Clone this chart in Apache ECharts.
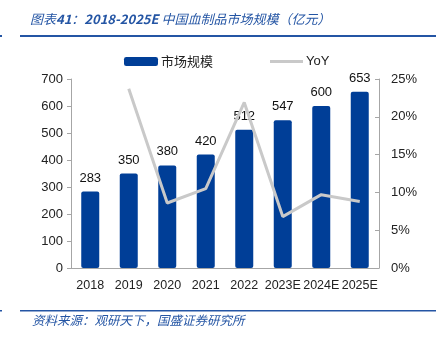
<!DOCTYPE html>
<html>
<head>
<meta charset="utf-8">
<script src="https://cdn.jsdelivr.net/npm/echarts@6/dist/echarts.min.js"></script>
<style>
  html, body { margin: 0; padding: 0; background: #fff; }
  #chart { width: 442px; height: 339px; }
</style>
</head>
<body>
<div id="chart"></div>
<script>
// Market size of blood products in China (100 million yuan) and YoY growth
var years = ['2018', '2019', '2020', '2021', '2022', '2023E', '2024E', '2025E'];
var marketSize = [283, 350, 380, 420, 512, 547, 600, 653];
var yoyGrowth = [null, 23.7, 8.6, 10.5, 21.9, 6.8, 9.7, 8.8];
var leftTicks = { min: 0, max: 700, step: 100 };
var rightTicks = { min: 0, max: 25, step: 5 };

var titleParts = ['图表', '41', '：', '2018-2025E', ' 中国血制品市场规模（亿元）'];
var sourceText = '资料来源：观研天下，国盛证券研究所';

var FONT = '"Liberation Sans", Arial, sans-serif';
var CJK = '"Noto Sans CJK SC", sans-serif';
var BLUE = '#003E97';
var GREY = '#C9C9C9';
var AXIS = '#A6A6A6';
var HEAD = '#2455A4';

// Latin pieces of the heading are set bold, the Chinese pieces regular
var titleRich = titleParts.map(function (p, i) {
  return '{' + (i % 2 ? 'b' : 'n') + '|' + p + '}';
}).join('');

var chart = echarts.init(document.getElementById('chart'));
chart.setOption({
  animation: false,
  backgroundColor: '#fff',
  grid: { left: 71, right: 63, top: 79, height: 189 },
  legend: [{
    left: 124, top: 55, padding: 0, itemWidth: 34, itemHeight: 9, itemGap: 3,
    data: [{ name: '市场规模', icon: 'roundRect' }],
    textStyle: { fontFamily: CJK, fontSize: 13, color: '#222', padding: [0, 0, 0, -2] }
  }, {
    left: 270, top: 55, padding: 0, itemWidth: 33, itemHeight: 3,
    data: [{ name: 'YoY', icon: 'rect' }],
    textStyle: { fontFamily: FONT, fontSize: 13, color: '#222', padding: [0, 0, 0, -2] }
  }],
  xAxis: {
    type: 'category',
    data: years,
    axisLine: { lineStyle: { color: AXIS } },
    axisTick: { inside: true, length: 4, lineStyle: { color: AXIS } },
    axisLabel: { interval: 0, fontFamily: FONT, fontSize: 12.5, color: '#222', margin: 11 }
  },
  yAxis: [{
    type: 'value',
    min: leftTicks.min, max: leftTicks.max, interval: leftTicks.step,
    splitLine: { show: false },
    axisLine: { show: true, lineStyle: { color: AXIS } },
    axisTick: { show: true, length: 4, lineStyle: { color: AXIS } },
    axisLabel: { fontFamily: FONT, fontSize: 13, color: '#222', margin: 8 }
  }, {
    type: 'value',
    min: rightTicks.min, max: rightTicks.max, interval: rightTicks.step,
    splitLine: { show: false },
    axisLine: { show: true, lineStyle: { color: AXIS } },
    axisTick: { show: true, inside: true, length: 4, lineStyle: { color: AXIS } },
    axisLabel: { fontFamily: FONT, fontSize: 13, color: '#222', margin: 12, formatter: '{value}%' }
  }],
  series: [{
    name: '市场规模',
    type: 'bar',
    data: marketSize,
    barWidth: 18,
    itemStyle: { color: BLUE, borderRadius: 2 },
    label: { show: true, position: 'top', distance: 7, fontFamily: FONT, fontSize: 13, color: '#111' },
    z: 2
  }, {
    name: 'YoY',
    type: 'line',
    yAxisIndex: 1,
    data: yoyGrowth,
    symbol: 'none',
    lineStyle: { color: GREY, width: 3 },
    itemStyle: { color: GREY },
    z: 3
  }],
  graphic: [
    {
      type: 'text', left: 30, top: 13,
      style: {
        text: titleRich, fill: HEAD,
        rich: {
          n: { fontFamily: CJK, fontStyle: 'italic', fontSize: 13, fill: HEAD },
          b: { fontFamily: CJK, fontStyle: 'italic', fontWeight: 'bold', fontSize: 13, fill: HEAD }
        }
      }
    },
    { type: 'rect', shape: { x: 20, y: 35, width: 416, height: 2 }, style: { fill: HEAD } },
    { type: 'rect', shape: { x: 0, y: 35, width: 2, height: 2 }, style: { fill: HEAD } },
    { type: 'rect', shape: { x: 20, y: 310, width: 416, height: 1.5 }, style: { fill: HEAD } },
    { type: 'rect', shape: { x: 0, y: 310, width: 2, height: 1.5 }, style: { fill: HEAD } },
    { type: 'text', left: 32, top: 314, style: { text: sourceText, font: 'italic 12.5px ' + CJK, fill: HEAD } }
  ]
});
</script>
</body>
</html>
